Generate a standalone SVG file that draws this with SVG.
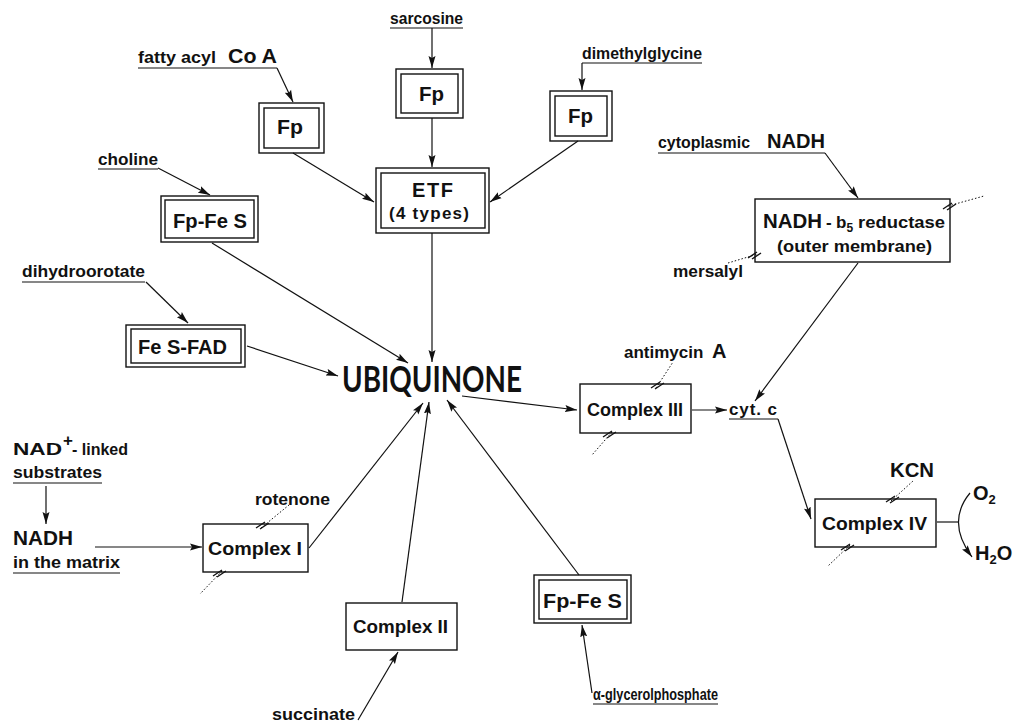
<svg xmlns="http://www.w3.org/2000/svg" width="1014" height="724" viewBox="0 0 1014 724">
<style>
text{font-family:"Liberation Sans",Arial,Helvetica,sans-serif;font-weight:bold;fill:#111;font-size:17px}
.big{font-size:20px}
.box{font-size:20px}
.cx{font-size:19px}
.ubq{font-size:36px;font-family:Lato,"Open Sans","Liberation Sans",sans-serif;font-weight:bold}
.r{fill:#fff;stroke:#111;stroke-width:1.4}
.ul{stroke:#111;stroke-width:1.2}
.c{stroke:#111;stroke-width:1.2;fill:none}
.a{marker-end:url(#ah)}
.dot{stroke:#111;stroke-width:1;stroke-dasharray:1.5 2;fill:none}
.cut line{stroke:#111;stroke-width:1.4}
</style>
<defs>
<marker id="ah" markerUnits="userSpaceOnUse" markerWidth="13" markerHeight="8" refX="12" refY="4" orient="auto">
<path d="M0,0.5 L12,4 L0,7.5 L2,4 Z" fill="#111"/>
</marker>
<g id="cut" class="cut"><line x1="-7" y1="3" x2="2" y2="-3"/><line x1="-3" y1="4" x2="6" y2="-2"/></g>
</defs>
<rect width="1014" height="724" fill="#fff"/>

<g id="labels">
<text x="390" y="24" textLength="73" lengthAdjust="spacingAndGlyphs">sarcosine</text>
<line class="ul" x1="390" y1="28" x2="463" y2="28"/>
<text x="138" y="63" textLength="78" lengthAdjust="spacingAndGlyphs">fatty acyl</text>
<text x="228" y="63" class="big" textLength="49" lengthAdjust="spacingAndGlyphs">Co A</text>
<line class="ul" x1="138" y1="68" x2="277" y2="68"/>
<text x="582" y="59" textLength="120" lengthAdjust="spacingAndGlyphs">dimethylglycine</text>
<line class="ul" x1="582" y1="63" x2="702" y2="63"/>
<text x="98" y="165" textLength="60" lengthAdjust="spacingAndGlyphs">choline</text>
<line class="ul" x1="98" y1="169" x2="158" y2="169"/>
<text x="22" y="277" textLength="123" lengthAdjust="spacingAndGlyphs">dihydroorotate</text>
<line class="ul" x1="22" y1="282" x2="145" y2="282"/>
<text x="658" y="148" textLength="92" lengthAdjust="spacingAndGlyphs">cytoplasmic</text>
<text x="767" y="148" class="big" textLength="58" lengthAdjust="spacingAndGlyphs">NADH</text>
<line class="ul" x1="658" y1="153" x2="825" y2="153"/>
<text x="673" y="277" textLength="70" lengthAdjust="spacingAndGlyphs">mersalyl</text>
<text x="624" y="358" font-size="16">antimycin <tspan font-size="20" dx="4">A</tspan></text>
<text x="729" y="415" textLength="48">cyt. c</text>
<line class="ul" x1="729" y1="419" x2="778" y2="419"/>
<text x="890" y="477" class="big" textLength="44" lengthAdjust="spacingAndGlyphs">KCN</text>
<text x="973" y="500" class="big">O<tspan font-size="13" dy="4">2</tspan></text>
<text x="975" y="560" class="big">H<tspan font-size="13" dy="4">2</tspan><tspan dy="-4">O</tspan></text>
<text x="13" y="455" font-size="21" textLength="49" lengthAdjust="spacingAndGlyphs">NAD</text>
<text x="63" y="446" font-size="12">+</text>
<text x="72" y="455" font-size="16" textLength="56" lengthAdjust="spacingAndGlyphs">- linked</text>
<text x="13" y="478" textLength="89" lengthAdjust="spacingAndGlyphs">substrates</text>
<line class="ul" x1="13" y1="483" x2="102" y2="483"/>
<text x="13" y="545" class="big" textLength="60" lengthAdjust="spacingAndGlyphs">NADH</text>
<text x="13" y="568" textLength="107" lengthAdjust="spacingAndGlyphs">in the matrix</text>
<line class="ul" x1="13" y1="573" x2="120" y2="573"/>
<text x="255" y="505" textLength="75" lengthAdjust="spacingAndGlyphs">rotenone</text>
<text x="272" y="720" textLength="83" lengthAdjust="spacingAndGlyphs">succinate</text>
<text x="593" y="700" font-size="15" textLength="125" lengthAdjust="spacingAndGlyphs">α-glycerolphosphate</text>
<line class="ul" x1="593" y1="704" x2="718" y2="704"/>
</g>

<g id="fp-center">
<rect class="r" x="396" y="69" width="67" height="49"/>
<rect class="r" x="401" y="74" width="57" height="39"/>
<text x="419" y="101" class="box" textLength="25" lengthAdjust="spacingAndGlyphs">Fp</text>
</g>
<g id="fp-left">
<rect class="r" x="259" y="103" width="65" height="50"/>
<rect class="r" x="264" y="108" width="55" height="40"/>
<text x="277" y="134" class="box" textLength="26" lengthAdjust="spacingAndGlyphs">Fp</text>
</g>
<g id="fp-right">
<rect class="r" x="550" y="91" width="62" height="50"/>
<rect class="r" x="555" y="96" width="52" height="40"/>
<text x="568" y="123" class="box" textLength="25" lengthAdjust="spacingAndGlyphs">Fp</text>
</g>
<g id="etf">
<rect class="r" x="376" y="168" width="113" height="65"/>
<rect class="r" x="381" y="173" width="104" height="55"/>
<text x="412" y="197" class="big" textLength="41">ETF</text>
<text x="389" y="219" font-size="17" textLength="80">(4 types)</text>
</g>
<g id="fpfes-left">
<rect class="r" x="161" y="196" width="97" height="46"/>
<rect class="r" x="165" y="200" width="89" height="38"/>
<text x="173" y="228" class="box" textLength="74" lengthAdjust="spacingAndGlyphs">Fp-Fe S</text>
</g>
<g id="fesfad">
<rect class="r" x="126" y="325" width="119" height="42"/>
<rect class="r" x="131" y="329" width="110" height="34"/>
<text x="138" y="354" class="box" textLength="89" lengthAdjust="spacingAndGlyphs">Fe S-FAD</text>
</g>
<g id="nadh-b5">
<rect class="r" x="755" y="199" width="195" height="63"/>
<text x="763" y="228" class="big" textLength="59" lengthAdjust="spacingAndGlyphs">NADH</text>
<text x="826" y="228">-</text>
<text x="836" y="228" font-size="16">b<tspan font-size="12" dy="4">5</tspan></text>
<text x="858" y="228" textLength="87" lengthAdjust="spacingAndGlyphs">reductase</text>
<text x="777" y="252" textLength="155" lengthAdjust="spacingAndGlyphs">(outer membrane)</text>
</g>
<g id="ubiquinone">
<text x="342" y="392" class="ubq" textLength="180" lengthAdjust="spacingAndGlyphs">UBIQUINONE</text>
</g>
<g id="complex3">
<rect class="r" x="580" y="384" width="111" height="49"/>
<text x="587" y="416" class="cx" textLength="96" lengthAdjust="spacingAndGlyphs">Complex III</text>
</g>
<g id="complex4">
<rect class="r" x="815" y="499" width="121" height="48"/>
<text x="822" y="530" class="cx" textLength="105" lengthAdjust="spacingAndGlyphs">Complex IV</text>
</g>
<g id="complex1">
<rect class="r" x="203" y="524" width="105" height="48"/>
<text x="208" y="555" class="cx" textLength="94" lengthAdjust="spacingAndGlyphs">Complex I</text>
</g>
<g id="complex2">
<rect class="r" x="346" y="603" width="111" height="47"/>
<text x="353" y="633" class="cx" textLength="95" lengthAdjust="spacingAndGlyphs">Complex II</text>
</g>
<g id="fpfes-right">
<rect class="r" x="534" y="575" width="97" height="48"/>
<rect class="r" x="539" y="580" width="88" height="39"/>
<text x="543" y="608" class="box" textLength="79" lengthAdjust="spacingAndGlyphs">Fp-Fe S</text>
</g>

<g id="connectors">
<line class="c a" x1="432" y1="28" x2="432" y2="68"/>
<line class="c a" x1="277" y1="68" x2="293" y2="102"/>
<line class="c a" x1="582" y1="63" x2="582" y2="90"/>
<line class="c a" x1="432" y1="118" x2="432" y2="167"/>
<line class="c a" x1="293" y1="153" x2="374" y2="202"/>
<line class="c a" x1="578" y1="141" x2="490" y2="202"/>
<line class="c a" x1="158" y1="168" x2="210" y2="195"/>
<line class="c a" x1="212" y1="243" x2="408" y2="363"/>
<line class="c a" x1="432" y1="233" x2="432" y2="362"/>
<line class="c a" x1="146" y1="282" x2="188" y2="323"/>
<line class="c a" x1="247" y1="346" x2="338" y2="376"/>
<line class="c a" x1="462" y1="396" x2="577" y2="410"/>
<line class="c a" x1="825" y1="153" x2="858" y2="198"/>
<line class="c a" x1="858" y1="263" x2="755" y2="401"/>
<line class="c a" x1="692" y1="410" x2="727" y2="410"/>
<line class="c a" x1="778" y1="419" x2="811" y2="519"/>
<line class="c a" x1="46" y1="486" x2="46" y2="524"/>
<line class="c a" x1="95" y1="547" x2="202" y2="547"/>
<line class="c a" x1="309" y1="548" x2="423" y2="403"/>
<line class="c a" x1="402" y1="602" x2="429" y2="402"/>
<line class="c a" x1="358" y1="720" x2="398" y2="652"/>
<line class="c a" x1="579" y1="575" x2="447" y2="400"/>
<line class="c a" x1="592" y1="693" x2="582" y2="625"/>
<line class="c" x1="937" y1="522" x2="958" y2="522"/>
<path class="c a" d="M970,493 Q946,522 972,557"/>
<line class="dot" x1="728" y1="263" x2="758" y2="254"/>
<use href="#cut" x="755" y="255"/>
<line class="dot" x1="948" y1="206" x2="984" y2="196"/>
<use href="#cut" x="950" y="206"/>
<line class="dot" x1="656" y1="388" x2="673" y2="362"/>
<use href="#cut" x="658" y="385"/>
<line class="dot" x1="612" y1="432" x2="592" y2="455"/>
<use href="#cut" x="610" y="434"/>
<line class="dot" x1="261" y1="528" x2="289" y2="505"/>
<use href="#cut" x="263" y="525"/>
<line class="dot" x1="222" y1="571" x2="200" y2="594"/>
<use href="#cut" x="220" y="573"/>
<line class="dot" x1="891" y1="501" x2="913" y2="481"/>
<use href="#cut" x="893" y="499"/>
<line class="dot" x1="850" y1="545" x2="828" y2="566"/>
<use href="#cut" x="848" y="547"/>
</g>
</svg>
